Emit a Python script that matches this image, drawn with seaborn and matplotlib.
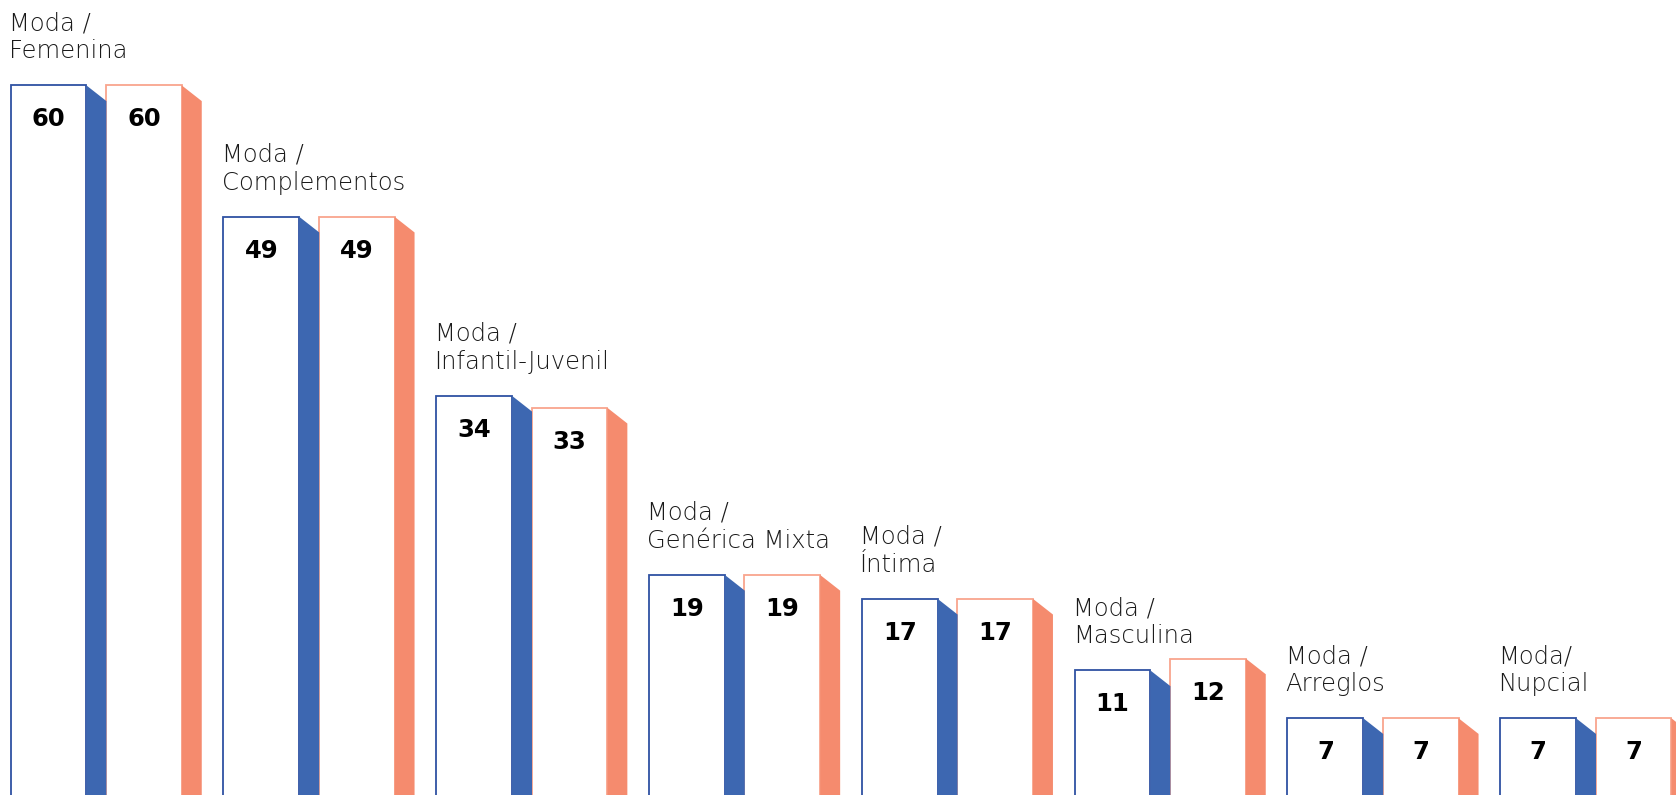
import matplotlib
matplotlib.use("Agg")
import matplotlib.pyplot as plt
import seaborn as sns
import pandas as pd

categories = ["Moda /\nFemenina", "Moda /\nComplementos", "Moda /\nInfantil-Juvenil",
              "Moda /\nGenérica Mixta", "Moda /\nÍntima", "Moda /\nMasculina",
              "Moda /\nArreglos", "Moda/\nNupcial"]
series_names = ["Serie A", "Serie B"]
values_a = [60, 49, 34, 19, 17, 11, 7, 7]
values_b = [60, 49, 33, 19, 17, 12, 7, 7]

blue = "#3D67B1"
orange = "#F58B6E"
blue_edge = "#2F52A3"
orange_edge = "#F9A58D"

df = pd.DataFrame({
    "cat": categories * 2,
    "series": [series_names[0]] * len(categories) + [series_names[1]] * len(categories),
    "value": values_a + values_b,
})

sns.set_style("white")
plt.rcParams["font.family"] = ["DejaVu Sans"]

fig = plt.figure(figsize=(16.76, 7.95), dpi=100)
ax = fig.add_axes([0, 0, 1, 1])

sns.barplot(data=df, x="cat", y="value", hue="series", order=categories,
            hue_order=series_names, palette=[blue, orange], width=0.896, gap=0.205,
            legend=False, ax=ax, errorbar=None, saturation=1)

px_per_unit_y = 11.94
ax.set_ylim(0.57, 0.57 + 795 / px_per_unit_y)
ax.set_xlim(-0.452, -0.452 + 1676 / 212.8)
ax.axis("off")

side_w = 0.094
drop = 15.7 / px_per_unit_y
n = len(categories)
bars = list(ax.patches)
for k, p in enumerate(bars):
    is_blue = k < n
    col = blue if is_blue else orange
    ecol = blue_edge if is_blue else orange_edge
    x0 = p.get_x()
    w = p.get_width()
    h = p.get_height()
    p.set_facecolor("white")
    p.set_edgecolor(ecol)
    p.set_linewidth(1.3)
    xr = x0 + w
    ax.fill([xr, xr + side_w, xr + side_w, xr], [h, h - drop, 0, 0],
            color=col, lw=0, zorder=1)
    ax.annotate(f"{int(round(h))}", (x0 + w / 2, h), xytext=(0, -34),
                textcoords="offset pixels", ha="center", va="center",
                fontsize=17.5, fontweight="bold", color="black")

# category labels anchored on the first series' bars
for cat, p in zip(categories, bars[:n]):
    ax.annotate(cat, (p.get_x() - 0.008, p.get_height()), xytext=(0, 22),
                textcoords="offset pixels", ha="left", va="bottom",
                fontsize=17.5, fontweight=200, color="#1a1a1a",
                linespacing=1.22)

fig.savefig("out.png", dpi=100)
